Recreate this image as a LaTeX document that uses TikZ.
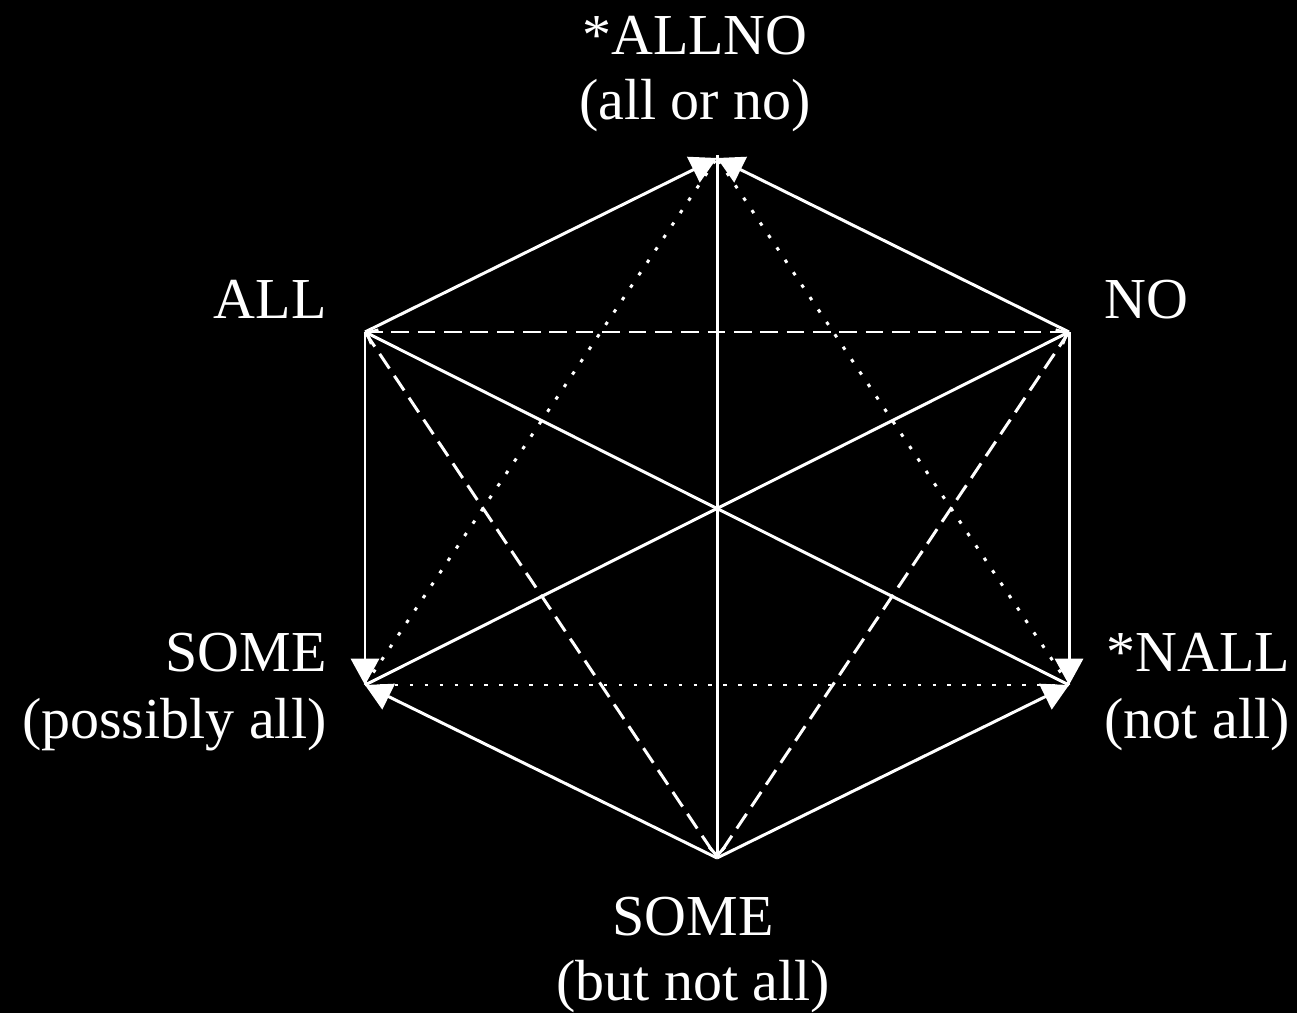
\documentclass[tikz,border=0pt]{standalone}
\usepackage{fontspec}
\setmainfont{Liberation Serif}
\usetikzlibrary{arrows.meta}

\begin{document}
\begin{tikzpicture}[x=0.02cm, y=-0.02cm, line width=1.7pt, white,
    lbl/.style={inner sep=0pt, text=white, font=\fontsize{33}{40}\selectfont},
    imp/.style={-{Triangle[length=15pt, width=16pt]}},
    contra/.style={-{Straight Barb[length=5pt, width=9pt]}},
    contr/.style={dash pattern=on 10pt off 5pt},
    subc/.style={dash pattern=on 2pt off 6.5pt}]
    \fill[black] (0,0) rectangle (1297,1013);

    % corners of the hexagon
    \coordinate (allno) at (717,158);
    \coordinate (all) at (365,332);
    \coordinate (no) at (1069,332);
    \coordinate (some) at (365,685);
    \coordinate (nall) at (1069,685);
    \coordinate (sbna) at (717,858);

    % labels
    \node[lbl, anchor=base] (allnoa) at (695,55) {*ALLNO};
    \node[lbl, anchor=base] (allnob) at (695,120) {(all or no)};
    \node[lbl, anchor=base east] (alla) at (328,318) {ALL};
    \node[lbl, anchor=base west] (noa) at (1103,318) {NO};
    \node[lbl, anchor=base east] (somea) at (328,671) {SOME};
    \node[lbl, anchor=base east] (someb) at (328,738) {(possibly all)};
    \node[lbl, anchor=base west] (nalla) at (1105,671) {*NALL};
    \node[lbl, anchor=base west] (nallb) at (1103,738) {(not all)};
    \node[lbl, anchor=base] (sbnaa) at (693,935) {SOME};
    \node[lbl, anchor=base] (sbnab) at (693,1000) {(but not all)};

    \draw[contr] (all) -- (no);
    \draw[contr] (all) -- (sbna);
    \draw[contr] (no) -- (sbna);
    \draw[subc] (some) -- (nall);
    \draw[subc] (some) -- (allno);
    \draw[subc] (nall) -- (allno);
    \draw[contra] (nall) -- (all);
    \draw[contra] (some) -- (no);
    \draw[contra] ([yshift=1.7pt]allno) -- (sbna);
    \draw[imp] (all) -- (allno);
    \draw[imp] (no) -- (allno);
    \draw[imp] (all) -- (some);
    \draw[imp] (no) -- (nall);
    \draw[imp] (sbna) -- (some);
    \draw[imp] (sbna) -- (nall);
\end{tikzpicture}
\end{document}
